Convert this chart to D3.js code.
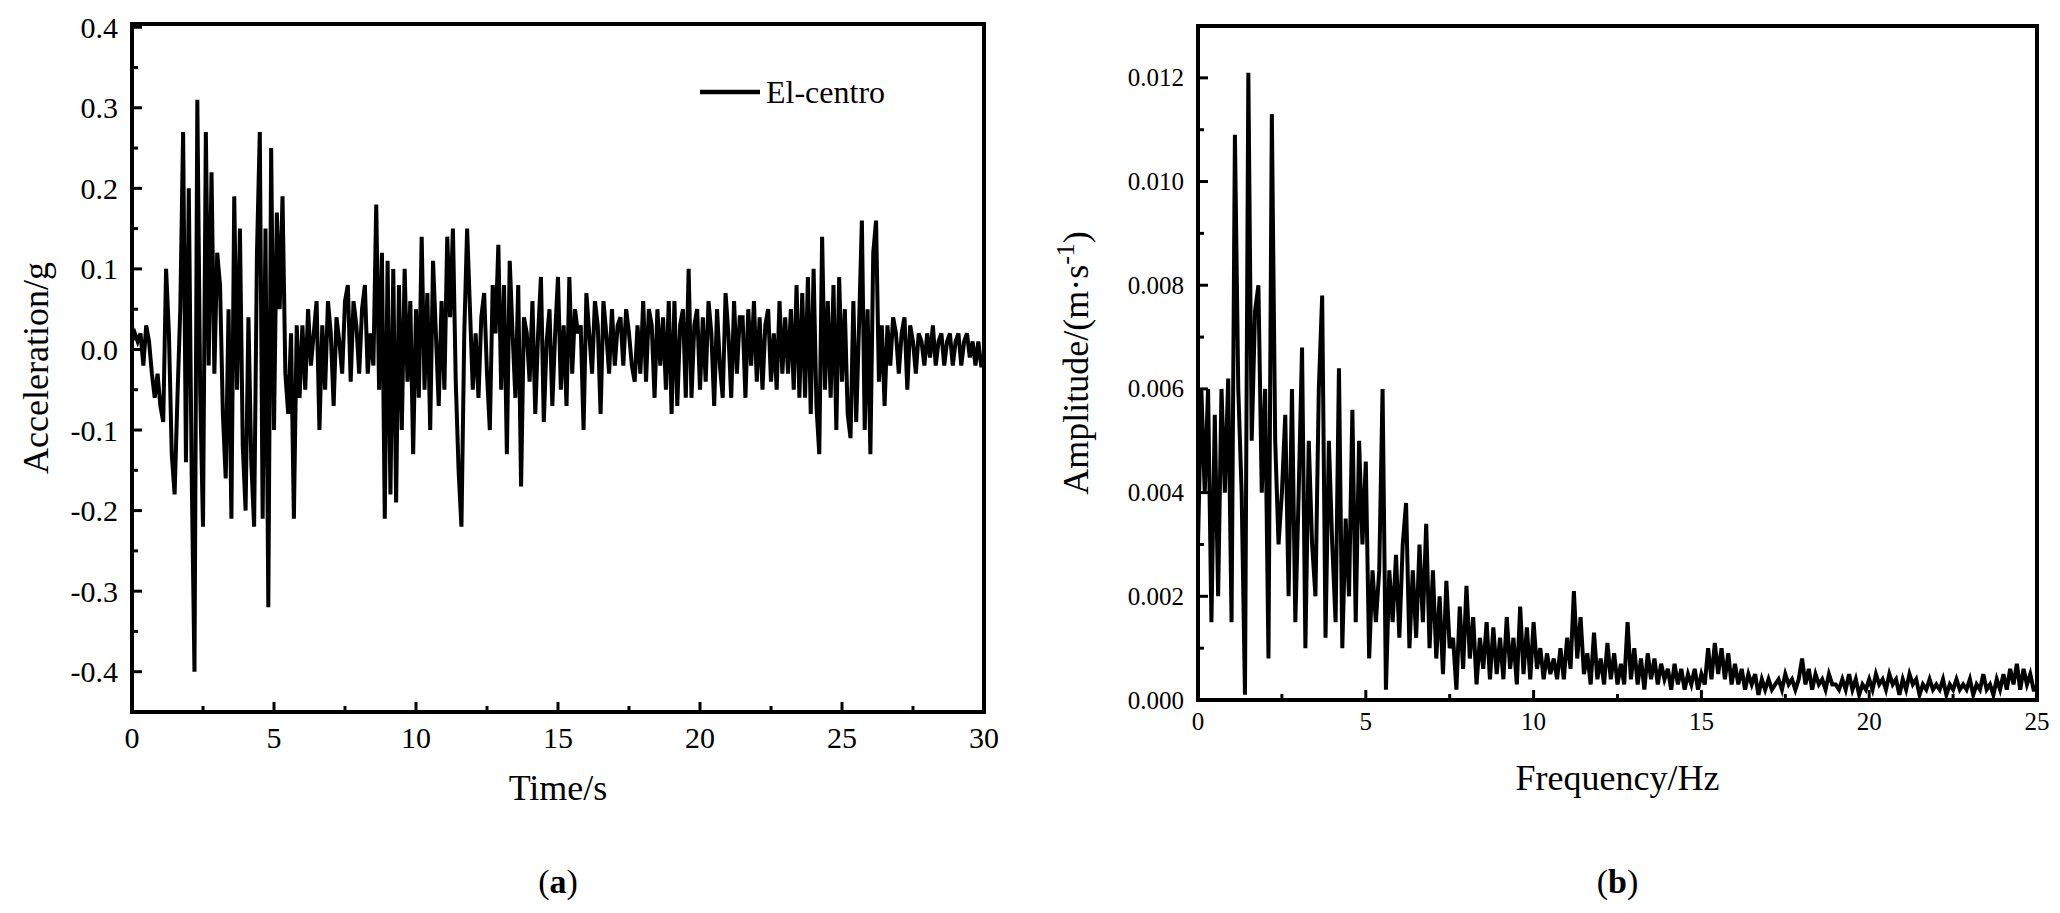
<!DOCTYPE html>
<html><head><meta charset="utf-8">
<script src="https://cdn.jsdelivr.net/npm/d3@7"></script>
<style>body{margin:0;background:#fff}text{font-family:"Liberation Serif","DejaVu Serif",serif;fill:#000}</style>
</head><body>
<svg id="chart" width="2060" height="913"></svg>
<script>
// El-centro acceleration (g), sampled every 0.1 s from 0 to 30 s
const accDt = 0.1;
const accValues = [
  0.01,0.02,0.01,0.02,-0.02,0.03,0.01,-0.03,-0.06,-0.03,
  -0.07,-0.09,0.10,0.02,-0.13,-0.18,-0.06,0.05,0.27,-0.14,
  0.20,-0.15,-0.40,0.31,-0.05,-0.22,0.27,-0.02,0.22,-0.03,
  0.12,0.08,-0.08,-0.16,0.05,-0.21,0.19,-0.05,0.15,-0.12,
  -0.20,0.04,-0.14,-0.22,0.12,0.27,-0.21,0.15,-0.32,0.25,
  -0.10,0.17,0.05,0.19,-0.03,-0.08,0.02,-0.21,0.03,-0.06,
  0.03,-0.05,0.05,-0.02,0.02,0.06,-0.10,0.03,-0.05,0.06,
  0.02,-0.07,0.04,0.01,-0.03,0.06,0.08,-0.04,0.06,0.03,
  -0.03,0.05,0.08,-0.03,0.02,-0.02,0.18,-0.05,0.12,-0.21,
  0.11,-0.18,0.10,-0.19,0.08,-0.10,0.10,-0.04,0.06,-0.13,
  0.05,-0.06,0.14,-0.05,0.07,-0.10,0.11,0.02,-0.07,0.06,
  -0.05,0.14,0.04,0.15,-0.04,-0.15,-0.22,0.02,0.15,0.05,
  -0.05,0.02,-0.06,0.04,0.07,-0.03,-0.10,0.08,0.02,0.13,
  -0.05,0.08,-0.13,0.11,0.02,-0.06,0.08,-0.17,0.04,0.02,
  -0.04,0.06,-0.08,0.02,0.09,-0.09,0.01,0.05,-0.07,0.02,
  0.09,-0.05,0.03,-0.07,0.09,-0.03,0.05,0.02,0.03,-0.10,
  0.07,0.02,-0.03,0.06,0.03,-0.08,0.06,0.02,-0.03,0.05,
  -0.02,0.03,0.04,-0.02,0.05,0.02,-0.02,-0.04,0.03,-0.03,
  0.06,-0.04,0.05,0.03,-0.06,0.05,-0.02,0.04,-0.05,0.06,
  -0.08,0.06,-0.07,0.03,0.05,-0.06,0.10,-0.06,0.03,0.05,
  -0.05,0.04,-0.04,0.06,0.02,-0.07,0.05,-0.02,-0.06,0.07,
  0.02,-0.06,0.06,-0.03,0.04,0.04,-0.06,0.05,-0.02,0.06,
  -0.04,0.04,-0.05,0.03,0.05,-0.04,0.02,-0.05,0.06,-0.03,
  0.04,-0.03,0.05,-0.05,0.08,-0.06,0.07,-0.06,0.09,-0.08,
  0.10,-0.07,-0.13,0.14,-0.05,0.06,-0.06,0.08,-0.10,0.09,
  -0.04,0.05,-0.08,-0.11,0.06,-0.09,0.03,0.16,-0.10,0.05,
  -0.13,0.12,0.16,-0.04,0.03,-0.07,0.03,-0.02,0.04,0.02,
  -0.03,0.02,0.04,-0.05,0.03,0.01,-0.03,0.02,0.01,-0.02,
  0.02,-0.01,0.03,-0.02,0.01,0.02,-0.02,0.01,0.02,-0.02,
  0.01,0.02,-0.02,0.01,0.02,-0.01,0.01,-0.02,0.01,-0.02,
  -0.02
];

// Fourier amplitude spectrum, every 0.1 Hz from 0 to 25 Hz
const specDf = 0.1;
const specValues = [
  0.0030,0.0060,0.0040,0.0060,0.0015,0.0055,0.0020,0.0060,0.0040,0.0062,
  0.0015,0.0109,0.0060,0.0040,0.0001,0.0121,0.0050,0.0075,0.0080,0.0040,
  0.0060,0.0008,0.0113,0.0050,0.0030,0.0040,0.0055,0.0020,0.0060,0.0015,
  0.0040,0.0068,0.0010,0.0050,0.0030,0.0020,0.0060,0.0078,0.0012,0.0050,
  0.0030,0.0015,0.0064,0.0010,0.0035,0.0020,0.0056,0.0015,0.0050,0.0030,
  0.0046,0.0008,0.0025,0.0015,0.0025,0.0060,0.0002,0.0025,0.0015,0.0028,
  0.0012,0.0030,0.0038,0.0010,0.0025,0.0012,0.0030,0.0015,0.0034,0.0010,
  0.0025,0.0008,0.0020,0.0005,0.0023,0.0010,0.0012,0.0002,0.0018,0.0006,
  0.0022,0.0008,0.0016,0.0003,0.0012,0.0006,0.0015,0.0004,0.0014,0.0005,
  0.0012,0.0004,0.0016,0.0006,0.0012,0.0003,0.0018,0.0005,0.0014,0.0004,
  0.0015,0.0006,0.0010,0.0004,0.0009,0.0005,0.0008,0.0004,0.0010,0.0004,
  0.0012,0.0006,0.0021,0.0008,0.0016,0.0005,0.0009,0.0003,0.0013,0.0004,
  0.0008,0.0003,0.0011,0.0004,0.0009,0.0003,0.0007,0.0003,0.0015,0.0004,
  0.0010,0.0003,0.0008,0.0002,0.0009,0.0004,0.0008,0.0003,0.0007,0.0004,
  0.0006,0.0002,0.0007,0.0003,0.0006,0.0002,0.0005,0.0003,0.0006,0.0002,
  0.0005,0.0003,0.0010,0.0004,0.0011,0.0005,0.0010,0.0004,0.0009,0.0003,
  0.0007,0.0003,0.0006,0.0002,0.0005,0.0003,0.0005,0.0001,0.0004,0.0002,
  0.0004,0.0002,0.0003,0.0004,0.0002,0.0005,0.0003,0.0004,0.0002,0.0004,
  0.0008,0.0003,0.0006,0.0002,0.0005,0.0003,0.0004,0.0002,0.0005,0.0003,
  0.0003,0.0002,0.0004,0.0002,0.0005,0.0002,0.0004,0.0001,0.0003,0.0002,
  0.0004,0.0002,0.0005,0.0003,0.0004,0.0002,0.0005,0.0003,0.0004,0.0001,
  0.0004,0.0002,0.0005,0.0003,0.0004,0.0001,0.0003,0.0002,0.0004,0.0002,
  0.0003,0.0002,0.0004,0.0001,0.0003,0.0002,0.0004,0.0002,0.0003,0.0002,
  0.0004,0.0001,0.0003,0.0002,0.0005,0.0002,0.0003,0.0001,0.0004,0.0002,
  0.0005,0.0002,0.0006,0.0003,0.0007,0.0002,0.0006,0.0003,0.0005,0.0002,
  0.0002
];

const accTicksY = [-0.4,-0.3,-0.2,-0.1,0.0,0.1,0.2,0.3,0.4];
const accTicksX = [0,5,10,15,20,25,30];
const specTicksY = [0,0.002,0.004,0.006,0.008,0.010,0.012];
const specTicksX = [0,5,10,15,20,25];

const svg = d3.select("#chart");

function panel(opt) {
  const x = d3.scaleLinear().domain(opt.xDomain).range([opt.left, opt.right]);
  const y = d3.scaleLinear().domain(opt.yDomain).range([opt.bottom, opt.top]);
  const g = svg.append("g");

  // minor + major ticks, inward, left and bottom only
  const tickLine = (x1, y1, x2, y2, w) => g.append("line")
    .attr("x1", x1).attr("y1", y1).attr("x2", x2).attr("y2", y2)
    .attr("stroke", "#000").attr("stroke-width", w);

  opt.yTicks.forEach(v => {
    tickLine(opt.left, y(v), opt.left + 10, y(v), 3);
    g.append("text").attr("x", opt.left - 14).attr("y", y(v))
      .attr("text-anchor", "end").attr("dominant-baseline", "central")
      .style("font-size", opt.tickFont + "px").text(opt.yFmt(v).replace("\u2212", "-"));
  });
  opt.yMinor.forEach(v => tickLine(opt.left, y(v), opt.left + 6, y(v), 3));

  opt.xTicks.forEach(v => {
    tickLine(x(v), opt.bottom, x(v), opt.bottom - 10, 3);
    g.append("text").attr("x", x(v)).attr("y", opt.bottom + opt.tickFont * 1.2)
      .attr("text-anchor", "middle")
      .style("font-size", opt.tickFont + "px").text(v);
  });
  opt.xMinor.forEach(v => tickLine(x(v), opt.bottom, x(v), opt.bottom - 6, 3));

  const line = d3.line().x((d, i) => x(i * opt.step)).y(d => y(d));
  g.append("path").datum(opt.data)
    .attr("fill", "none").attr("stroke", "#000").attr("stroke-width", 4)
    .attr("stroke-linejoin", "miter").attr("d", line);

  g.append("rect").attr("x", opt.left).attr("y", opt.top)
    .attr("width", opt.right - opt.left).attr("height", opt.bottom - opt.top)
    .attr("fill", "none").attr("stroke", "#000").attr("stroke-width", 4);

  g.append("text").attr("x", (opt.left + opt.right) / 2).attr("y", opt.xTitleY)
    .attr("text-anchor", "middle").style("font-size", "36px").text(opt.xTitle);

  const yt = g.append("text")
    .attr("transform", `translate(${opt.yTitleX},${(opt.top + opt.bottom) / 2}) rotate(-90)`)
    .attr("text-anchor", "middle").style("font-size", "36px");
  opt.yTitle(yt);

  g.append("text").attr("x", (opt.left + opt.right) / 2).attr("y", 893)
    .attr("text-anchor", "middle").style("font-size", "34px")
    .html(`(<tspan font-weight="bold">${opt.tag}</tspan>)`);
  return { g, x, y };
}

const a = panel({
  left: 132, right: 984, top: 24, bottom: 712,
  xDomain: [0, 30], yDomain: [-0.45, 0.404],
  xTicks: accTicksX, xMinor: [2.5,7.5,12.5,17.5,22.5,27.5],
  yTicks: accTicksY, yMinor: d3.range(-0.45, 0.4, 0.1),
  yFmt: d3.format(".1f"), tickFont: 30,
  data: accValues, step: accDt,
  xTitle: "Time/s", xTitleY: 800, yTitleX: 48,
  yTitle: t => t.text("Acceleration/g"), tag: "a"
});

// legend
a.g.append("line").attr("x1", 700).attr("x2", 760).attr("y1", 92).attr("y2", 92)
  .attr("stroke", "#000").attr("stroke-width", 4.5);
a.g.append("text").attr("x", 766).attr("y", 92).attr("dominant-baseline", "central")
  .style("font-size", "32px").text("El-centro");

panel({
  left: 1198, right: 2037, top: 26, bottom: 700,
  xDomain: [0, 25], yDomain: [0, 0.013],
  xTicks: specTicksX, xMinor: [2.5,7.5,12.5,17.5,22.5],
  yTicks: specTicksY, yMinor: [0.001,0.003,0.005,0.007,0.009,0.011,0.013],
  yFmt: d3.format(".3f"), tickFont: 25,
  data: specValues, step: specDf,
  xTitle: "Frequency/Hz", xTitleY: 790, yTitleX: 1088,
  yTitle: t => t.html('Amplitude/(m·s<tspan dy="-14" font-size="26px">-1</tspan><tspan dy="14">)</tspan>'),
  tag: "b"
});
</script>
</body></html>
